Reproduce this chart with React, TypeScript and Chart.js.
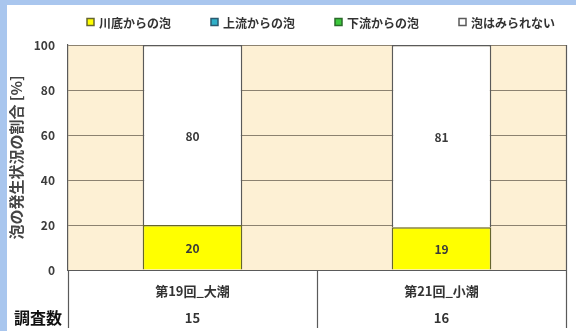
import React, { useEffect, useRef } from 'react';
import { Chart, registerables } from 'chart.js';

Chart.register(...registerables);

const categories = ['第19回_大潮', '第21回_小潮'];
const surveyCounts = [15, 16];
const riverbedFoam = [20, 19];
const upstreamFoam = [0, 0];
const downstreamFoam = [0, 0];
const noFoam = [80, 81];
const seriesNames = ['川底からの泡', '上流からの泡', '下流からの泡', '泡はみられない'];
const yTitle = '泡の発生状況の割合 [%]';
const countLabel = '調査数';

const FONT = '"Noto Sans CJK JP", "Noto Sans", sans-serif';

const plotBg = {
  id: 'plotBg',
  beforeDraw(chart: any) {
    const { ctx, chartArea: a } = chart;
    ctx.save();
    ctx.fillStyle = '#fdf0d4';
    ctx.fillRect(a.left, a.top, a.right - a.left, a.bottom - a.top);
    ctx.restore();
  },
};

const valueLabels = {
  id: 'valueLabels',
  afterDatasetsDraw(chart: any) {
    const { ctx } = chart;
    ctx.save();
    ctx.font = `bold 12px ${FONT}`;
    ctx.fillStyle = '#3a3a3a';
    ctx.textAlign = 'center';
    ctx.textBaseline = 'middle';
    chart.data.datasets.forEach((ds: any, di: number) => {
      const meta = chart.getDatasetMeta(di);
      meta.data.forEach((el: any, i: number) => {
        const v = ds.data[i];
        if (!v) return;
        ctx.fillText(String(v), el.x, (el.y + el.base) / 2 + 1);
      });
    });
    ctx.restore();
  },
};

const tableAndLegend = {
  id: 'tableAndLegend',
  afterDraw(chart: any) {
    const { ctx, chartArea: a } = chart;
    const xs = chart.scales.x;
    const bottom = 328;
    ctx.save();
    ctx.strokeStyle = '#5a5a5a';
    ctx.lineWidth = 1.2;
    ctx.beginPath();
    ctx.moveTo(a.left, Math.round(a.bottom) + 0.5);
    ctx.lineTo(a.right, Math.round(a.bottom) + 0.5);
    ctx.moveTo(Math.round(a.left) + 0.5, a.bottom);
    ctx.lineTo(Math.round(a.left) + 0.5, bottom);
    ctx.moveTo(Math.round(a.right) + 0.5, a.top);
    ctx.lineTo(Math.round(a.right) + 0.5, bottom);
    for (let i = 0; i < categories.length - 1; i++) {
      const x = Math.round((xs.getPixelForValue(i) + xs.getPixelForValue(i + 1)) / 2) + 0.5;
      ctx.moveTo(x, a.bottom);
      ctx.lineTo(x, bottom);
    }
    ctx.stroke();

    ctx.fillStyle = '#333';
    ctx.textAlign = 'center';
    ctx.textBaseline = 'middle';
    categories.forEach((c, i) => {
      const x = xs.getPixelForValue(i);
      ctx.font = `bold 13px ${FONT}`;
      ctx.fillText(c, x, a.bottom + 21);
      ctx.fillText(String(surveyCounts[i]), x, a.bottom + 48);
    });
    ctx.fillStyle = '#111';
    ctx.font = `bold 16px ${FONT}`;
    ctx.textAlign = 'left';
    ctx.fillText(countLabel, 14, a.bottom + 48);

    ctx.font = `bold 12px ${FONT}`;
    const box = 7;
    const gapText = 5;
    const gapItem = 40;
    const items = chart.data.datasets.map((ds: any) => ({
      label: ds.label,
      fill: ds.backgroundColor,
      stroke: ds.borderColor,
      w: box + gapText + ctx.measureText(ds.label).width,
    }));
    const total = items.reduce((s: number, it: any) => s + it.w, 0) + gapItem * (items.length - 1);
    let x = (a.left + a.right) / 2 + 4 - total / 2;
    const y = 22;
    items.forEach((it: any) => {
      ctx.fillStyle = it.fill;
      ctx.fillRect(x, y - box / 2, box, box);
      ctx.strokeStyle = it.stroke;
      ctx.lineWidth = 1.5;
      ctx.strokeRect(x, y - box / 2, box, box);
      ctx.fillStyle = '#333';
      ctx.textAlign = 'left';
      ctx.fillText(it.label, x + box + gapText, y + 1);
      x += it.w + gapItem;
    });
    ctx.restore();
  },
};

export default function App() {
  const ref = useRef<HTMLCanvasElement>(null);
  useEffect(() => {
    if (!ref.current) return;
    const chart = new Chart(ref.current, {
      type: 'bar',
      data: {
        labels: categories,
        datasets: [
          { label: seriesNames[0], data: riverbedFoam, backgroundColor: '#ffff00', borderColor: '#66662e', borderWidth: 1.5, borderSkipped: 'start' },
          { label: seriesNames[1], data: upstreamFoam, backgroundColor: '#2fb0c8', borderColor: '#2a5a70', borderWidth: 0, borderSkipped: false },
          { label: seriesNames[2], data: downstreamFoam, backgroundColor: '#3cc83c', borderColor: '#2a6a2a', borderWidth: 0, borderSkipped: false },
          { label: seriesNames[3], data: noFoam, backgroundColor: '#ffffff', borderColor: '#5a5a5a', borderWidth: 1.5, borderSkipped: 'start' },
        ],
      },
      options: {
        responsive: false,
        animation: false,
        devicePixelRatio: 1,
        layout: { padding: { left: 7, right: 10, top: 45, bottom: 61 } },
        datasets: { bar: { barPercentage: 0.4, categoryPercentage: 1.0 } },
        plugins: { legend: { display: false }, tooltip: { enabled: false } },
        scales: {
          x: { display: false, stacked: true },
          y: {
            stacked: true,
            min: 0,
            max: 100,
            ticks: { stepSize: 20, padding: 13, color: '#3c3c3c', font: { family: FONT, size: 12, weight: 'bold' } },
            grid: { color: '#8c8270', lineWidth: 1, drawTicks: false },
            border: { display: true, color: '#5a5a5a', width: 1.2 },
            title: { display: true, text: yTitle, color: '#444', padding: { top: 0, bottom: 0 }, font: { family: FONT, size: 15, weight: 'bold' } },
            afterFit(scale: any) { scale.width = 61; },
          },
        },
      },
      plugins: [plotBg, valueLabels, tableAndLegend],
    } as any);
    return () => chart.destroy();
  }, []);
  return (
    <div style={{ position: 'fixed', left: 0, top: 0, width: 576, height: 331, background: '#a9c6ee', overflow: 'hidden' }}>
      <div style={{ position: 'absolute', left: 7, top: 5, right: 0, bottom: 0, background: '#ffffff' }} />
      <canvas ref={ref} width={576} height={331} style={{ position: 'absolute', left: 0, top: 0, width: 576, height: 331 }} />
    </div>
  );
}
